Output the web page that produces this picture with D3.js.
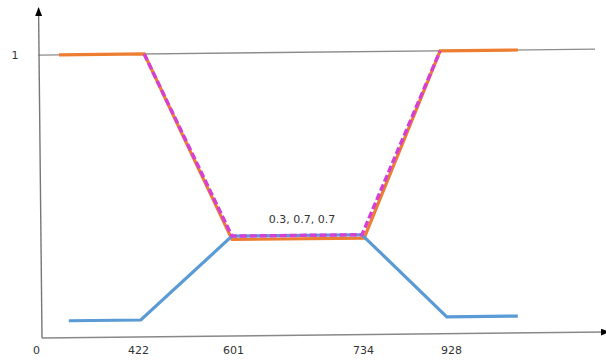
<!DOCTYPE html>
<html>
<head>
<meta charset="utf-8">
<script src="https://cdn.jsdelivr.net/npm/d3@7"></script>
<style>
  html, body { margin: 0; padding: 0; background: #fff; }
  svg { display: block; }
  text { font-family: "DejaVu Sans", Verdana, sans-serif; font-size: 11px; fill: #333; }
</style>
</head>
<body>
<svg id="chart" width="606" height="363"></svg>
<script>
// ---- data ----
const xTickValues = [0, 422, 601, 734, 928];
const xTickLabels = ["0", "422", "601", "734", "928"];
const yTickValues = [1];
const yTickLabels = ["1"];

const blueX = [115, 422, 601, 734, 928, 1092];
const blueY = [0.06, 0.06, 0.353, 0.353, 0.06, 0.06];

const orangeX = [85, 434, 601, 739, 919, 1099];
const orangeY = [1, 1, 0.341, 0.341, 1, 1];

const pinkX = [434, 601, 734, 919];
const pinkY = [1, 0.353, 0.353, 1];

const annotationText = "0.3, 0.7, 0.7";
const annotationX = [601, 734];
const annotationY = 0.353;

// ---- layout ----
const svg = d3.select("#chart");
const originX = 42, originY = 338;
const axisTop = 8, axisRight = 606, gridRight = 598;

const x = d3.scaleLinear()
  .domain(xTickValues)
  .range([originX, 141, 233, 363, 447]);
const y = d3.scaleLinear().domain([0, 1]).range([originY, 55]);

const defs = svg.append("defs");
defs.append("marker")
  .attr("id", "arrow")
  .attr("viewBox", "0 0 10 10")
  .attr("preserveAspectRatio", "none")
  .attr("refX", 9).attr("refY", 5)
  .attr("markerWidth", 9).attr("markerHeight", 7)
  .attr("markerUnits", "userSpaceOnUse")
  .attr("orient", "auto")
  .append("path").attr("d", "M0,0 L10,5 L0,10 Z").attr("fill", "#000");

// rotated plotting frame (reference picture is slightly tilted)
const g = svg.append("g").attr("transform", `rotate(-0.6, ${originX}, ${originY})`);

// gridline at 1
g.append("line")
  .attr("x1", originX - 1).attr("x2", gridRight)
  .attr("y1", y(1)).attr("y2", y(1))
  .attr("stroke", "#8c8c8c").attr("stroke-width", 1.3);

// axes
g.append("line")
  .attr("x1", originX).attr("x2", originX)
  .attr("y1", originY).attr("y2", axisTop)
  .attr("stroke", "#777").attr("stroke-width", 1.4)
  .attr("marker-end", "url(#arrow)");
g.append("line")
  .attr("x1", originX).attr("x2", axisRight + 3)
  .attr("y1", originY).attr("y2", originY)
  .attr("stroke", "#888").attr("stroke-width", 1.5)
  .attr("marker-end", "url(#arrow)");

const line = d3.line().x(d => x(d[0])).y(d => y(d[1]));

g.append("path")
  .datum(orangeX.map((v, i) => [v, orangeY[i]]))
  .attr("d", line)
  .attr("fill", "none").attr("stroke", "#ED7D31").attr("stroke-width", 3.2)
  .attr("stroke-linejoin", "miter");

g.append("path")
  .datum(blueX.map((v, i) => [v, blueY[i]]))
  .attr("d", line)
  .attr("fill", "none").attr("stroke", "#5B9BD5").attr("stroke-width", 3.2)
  .attr("stroke-linejoin", "miter");

g.append("path")
  .datum(pinkX.map((v, i) => [v, pinkY[i]]))
  .attr("d", line)
  .attr("fill", "none").attr("stroke", "#D63FD6").attr("stroke-width", 3.4)
  .attr("stroke-dasharray", "7,3")
  .attr("stroke-linejoin", "miter");

// ---- labels (not rotated) ----
const xAxis = d3.axisBottom(x)
  .tickValues(xTickValues)
  .tickFormat((d, i) => xTickLabels[i])
  .tickSize(0).tickPadding(0);
const xa = svg.append("g").attr("transform", `translate(0, 346)`).call(xAxis);
xa.select(".domain").remove();
xa.selectAll("text")
  .attr("font-family", "DejaVu Sans, Verdana, sans-serif")
  .attr("font-size", 11).attr("fill", "#333")
  .attr("dy", "0.71em")
  .attr("dx", (d, i) => (i === 0 ? -6 : (i === 1 ? -3 : (i === 4 ? 4 : 0))));

const yAxis = d3.axisLeft(y)
  .tickValues(yTickValues)
  .tickFormat((d, i) => yTickLabels[i])
  .tickSize(0).tickPadding(0);
const ya = svg.append("g").attr("transform", `translate(15, 0)`).call(yAxis);
ya.select(".domain").remove();
ya.selectAll("text")
  .attr("text-anchor", "middle")
  .attr("font-family", "DejaVu Sans, Verdana, sans-serif")
  .attr("font-size", 11).attr("fill", "#333");

svg.append("text")
  .attr("x", (x(annotationX[0]) + x(annotationX[1])) / 2 + 4)
  .attr("y", y(annotationY) - 15)
  .attr("text-anchor", "middle")
  .text(annotationText);
</script>
</body>
</html>
